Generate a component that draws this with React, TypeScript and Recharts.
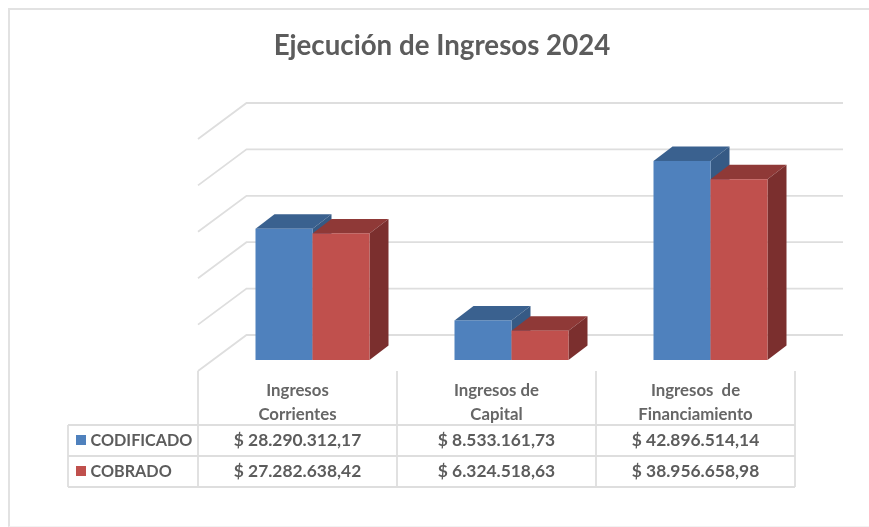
import React from 'react';
import { BarChart, Bar, XAxis, YAxis, CartesianGrid } from 'recharts';

const categories = ['Ingresos Corrientes', 'Ingresos de Capital', 'Ingresos\u00a0 de Financiamiento'];
const codificado = [28290312.17, 8533161.73, 42896514.14];
const cobrado = [27282638.42, 6324518.63, 38956658.98];
const yTicks = [0, 10000000, 20000000, 30000000, 40000000, 50000000];

const data = categories.map((name, i) => ({ name, codificado: codificado[i], cobrado: cobrado[i] }));

const FONT = 'Lato, sans-serif';
const TEXT = '#5c5c5c';
const LINE = '#dedede';
const DX = 19; // depth of the 3d bars
const DY = 14.5;

const money = (v: number) => {
  const [int, dec] = v.toFixed(2).split('.');
  return '$ ' + int.replace(/\B(?=(\d{3})+$)/g, '.') + ',' + dec;
};

const bar3d = (top: string, side: string) => (props: any) => {
  const { x, y, width, height, fill } = props;
  return (
    <g>
      <path d={`M${x},${y} l${DX},${-DY} h${width} l${-DX},${DY} z`} fill={top} />
      <path d={`M${x + width},${y} l${DX},${-DY} v${height} l${-DX},${DY} z`} fill={side} />
      <rect x={x} y={y} width={width} height={height} fill={fill} />
    </g>
  );
};

// wall and floor lines, from the front left corner to the back wall
const gridLine = (props: any) => {
  const y = props.y1;
  return (
    <path
      key={props.key ?? y}
      d={`M198,${y + 11} L246.5,${y - 25} H843`}
      fill="none"
      stroke={LINE}
      strokeWidth={1.8}
    />
  );
};

const Row = ({ y, color, label }: { y: number; color: string; label: string }) => (
  <g>
    <rect x={76} y={y - 11} width={10} height={10} fill={color} />
    <text x={90.5} y={y} fontSize={16.2} fontWeight={700} fill={TEXT} fontFamily={FONT}>
      {label}
    </text>
  </g>
);

// the data table under the plot hangs on the category axis
const TableTick = (props: any) => {
  const { x, index, payload } = props;
  const cx = x - 15;
  const words = payload.value.split(' ');
  const second = words.pop();
  const common = { textAnchor: 'middle' as const, fontFamily: FONT, fill: TEXT, fontWeight: 700 };
  return (
    <g>
      {index === 0 && (
        <g>
          <path d="M198,371 V487 M68,425 H795 M68,456 H795 M68,487 H795 M68,425 V487" stroke={LINE} strokeWidth={1.8} fill="none" />
          <Row y={446} color="#4f81bd" label="CODIFICADO" />
          <Row y={477} color="#c0504d" label="COBRADO" />
        </g>
      )}
      <line x1={cx + 99.5} x2={cx + 99.5} y1={371} y2={487} stroke={LINE} strokeWidth={1.8} />
      <text x={cx} y={396} fontSize={16.8} {...common} fill="#666">{words.join(' ')}</text>
      <text x={cx} y={420} fontSize={16.8} {...common} fill="#666">{second}</text>
      <text x={cx} y={446} fontSize={17.4} {...common}>{money(codificado[index])}</text>
      <text x={cx} y={477} fontSize={17.4} {...common}>{money(cobrado[index])}</text>
    </g>
  );
};

export default function App() {
  return (
    <div style={{ position: 'absolute', left: 0, top: 0, width: 869, height: 527, overflow: 'hidden', background: '#fff', filter: 'blur(0.4px)' }}>
      <div style={{ position: 'absolute', left: 8, top: 7.5, width: 900, height: 519, borderLeft: '2px solid #e2e2e2', borderTop: '2px solid #e2e2e2', borderBottom: '1px solid #f2f2f2', boxSizing: 'border-box' }} />
      <div style={{ position: 'absolute', left: 0, top: 28, width: 884, textAlign: 'center', font: `700 27.7px ${FONT}`, color: TEXT }}>
        Ejecución de Ingresos 2024
      </div>
      <div style={{ position: 'absolute', left: 0, top: 0 }}>
        <BarChart
          width={869}
          height={527}
          data={data}
          margin={{ top: 128, right: 59, bottom: 137, left: 213 }}
          barCategoryGap={42.5}
          barGap={0}
        >
          <CartesianGrid vertical={false} horizontal={gridLine} horizontalValues={yTicks} />
          <XAxis dataKey="name" height={30} axisLine={false} tickLine={false} interval={0} tick={<TableTick />} />
          <YAxis hide domain={[0, 50000000]} ticks={yTicks} />
          <Bar dataKey="codificado" fill="#4f81bd" isAnimationActive={false} shape={bar3d('#3a618f', '#365a85')} />
          <Bar dataKey="cobrado" fill="#c0504d" isAnimationActive={false} shape={bar3d('#8f3937', '#7b2f2e')} />
        </BarChart>
      </div>
    </div>
  );
}
